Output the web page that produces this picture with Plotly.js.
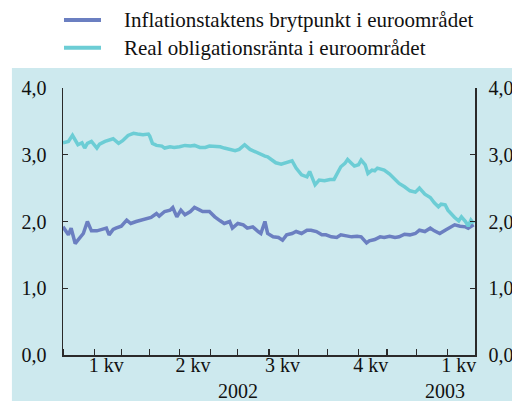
<!DOCTYPE html>
<html>
<head>
<meta charset="utf-8">
<script src="https://cdn.plot.ly/plotly-3.0.1.min.js"></script>
<style>
  html, body { margin: 0; padding: 0; background: #ffffff; }
  #chart { width: 512px; height: 401px; }
</style>
</head>
<body>
<div id="chart"></div>
<script>
// ---- data ----
const seriesNames = ['Inflationstaktens brytpunkt i euroområdet', 'Real obligationsränta i euroområdet'];

const inflDates = ['2002-01-01','2002-01-07','2002-01-09','2002-01-14','2002-01-16','2002-01-22','2002-01-25','2002-01-30',
  '2002-02-05','2002-02-08','2002-02-14','2002-02-18','2002-02-21','2002-02-25','2002-03-01','2002-03-07','2002-03-12',
  '2002-03-18','2002-03-22','2002-03-28','2002-04-02','2002-04-08','2002-04-10','2002-04-16','2002-04-22','2002-04-24',
  '2002-04-29','2002-05-02','2002-05-07','2002-05-13','2002-05-16','2002-05-22','2002-05-24','2002-05-31','2002-06-06',
  '2002-06-12','2002-06-17','2002-06-21','2002-06-25','2002-07-01','2002-07-05','2002-07-10','2002-07-16','2002-07-22',
  '2002-07-24','2002-07-29','2002-07-31','2002-08-06','2002-08-12','2002-08-15','2002-08-20','2002-08-26','2002-08-29',
  '2002-09-04','2002-09-10','2002-09-13','2002-09-19','2002-09-25','2002-09-30','2002-10-04','2002-10-10','2002-10-15',
  '2002-10-21','2002-10-25','2002-10-31','2002-11-05','2002-11-11','2002-11-13','2002-11-19','2002-11-25','2002-11-28',
  '2002-12-04','2002-12-10','2002-12-13','2002-12-19','2002-12-25','2002-12-31','2003-01-03','2003-01-09','2003-01-15',
  '2003-01-20','2003-01-24','2003-01-30','2003-02-04','2003-02-10','2003-02-14','2003-02-20','2003-02-24','2003-02-26',
  '2003-02-28'];
const inflValues = [1.92,1.80,1.90,1.67,1.72,1.82,2.00,1.86,
  1.86,1.88,1.90,1.80,1.88,1.90,1.93,2.02,1.97,
  2.00,2.02,2.05,2.06,2.12,2.08,2.15,2.17,2.21,
  2.07,2.17,2.10,2.15,2.21,2.17,2.15,2.15,2.07,
  2.01,1.97,2.00,1.90,1.97,1.95,1.90,1.92,1.85,
  1.82,2.00,1.82,1.77,1.76,1.72,1.80,1.82,1.85,
  1.82,1.87,1.87,1.85,1.80,1.80,1.77,1.76,1.80,
  1.78,1.77,1.78,1.77,1.68,1.71,1.73,1.77,1.76,
  1.78,1.76,1.77,1.81,1.80,1.82,1.87,1.85,1.90,
  1.86,1.82,1.87,1.90,1.95,1.93,1.92,1.90,1.93,
  1.95];

const realDates = ['2002-01-01','2002-01-07','2002-01-10','2002-01-16','2002-01-21','2002-01-23','2002-01-25','2002-01-30',
  '2002-02-05','2002-02-07','2002-02-13','2002-02-18','2002-02-21','2002-02-27','2002-03-04','2002-03-08','2002-03-14',
  '2002-03-19','2002-03-25','2002-03-29','2002-04-01','2002-04-03','2002-04-08','2002-04-12','2002-04-16','2002-04-22',
  '2002-04-25','2002-05-01','2002-05-07','2002-05-13','2002-05-16','2002-05-22','2002-05-28','2002-05-31','2002-06-06',
  '2002-06-12','2002-06-17','2002-06-21','2002-06-27','2002-07-02','2002-07-08','2002-07-12','2002-07-17','2002-07-23',
  '2002-07-29','2002-07-31','2002-08-05','2002-08-08','2002-08-14','2002-08-20','2002-08-26','2002-08-29','2002-09-04',
  '2002-09-10','2002-09-12','2002-09-18','2002-09-23','2002-09-27','2002-10-03','2002-10-08','2002-10-11','2002-10-15',
  '2002-10-18','2002-10-22','2002-10-25','2002-10-29','2002-11-01','2002-11-05','2002-11-08','2002-11-12','2002-11-15',
  '2002-11-19','2002-11-21','2002-11-26','2002-11-28','2002-12-04','2002-12-10','2002-12-13','2002-12-19','2002-12-25',
  '2002-12-31','2003-01-03','2003-01-09','2003-01-15','2003-01-20','2003-01-23','2003-01-27','2003-01-30','2003-02-03',
  '2003-02-06','2003-02-10','2003-02-13','2003-02-17','2003-02-20','2003-02-24','2003-02-26','2003-02-28'];
const realValues = [3.18,3.20,3.29,3.15,3.18,3.10,3.17,3.20,
  3.10,3.16,3.20,3.22,3.24,3.17,3.21,3.29,3.32,
  3.31,3.30,3.31,3.28,3.17,3.14,3.13,3.10,3.12,
  3.11,3.12,3.14,3.13,3.14,3.11,3.11,3.13,3.13,
  3.12,3.10,3.08,3.06,3.08,3.15,3.08,3.05,3.02,
  2.98,2.97,2.92,2.88,2.86,2.88,2.91,2.80,2.70,
  2.67,2.75,2.55,2.62,2.61,2.63,2.63,2.75,2.82,
  2.87,2.93,2.87,2.83,2.85,2.92,2.85,2.72,2.77,
  2.76,2.80,2.78,2.77,2.71,2.63,2.57,2.52,2.46,
  2.44,2.50,2.41,2.36,2.28,2.22,2.26,2.25,2.17,
  2.10,2.06,2.01,2.07,2.00,1.93,2.02,1.97];

// axis ticks and labels
const monthTicks = ['2002-01-01','2002-02-01','2002-03-01','2002-04-01','2002-05-01','2002-06-03','2002-07-01',
  '2002-08-01','2002-09-02','2002-10-01','2002-11-01','2002-12-02','2003-01-01','2003-02-03'];
const quarterPos = ['2002-02-14','2002-05-15','2002-08-15','2002-11-14','2003-02-13'];
const quarterLabels = ['1 kv','2 kv','3 kv','4 kv','1 kv'];
const yearPos = ['2002-07-01','2003-01-30'];
const yearLabels = ['2002','2003'];
const yTickVals = [0,1,2,3,4];
const yTickText = ['0,0','1,0','2,0','3,0','4,0'];

// ---- style ----
const FONT = 'Liberation Serif, Times New Roman, serif';
const PANEL = '#cde9ee';
const COLORS = ['#6b7fc1', '#6ccdd5'];
const AXC = '#2a2a2a';
const TXT = '#111111';

const traces = [
  { x: inflDates, y: inflValues, name: seriesNames[0], type: 'scatter', mode: 'lines',
    line: { color: COLORS[0], width: 3.5 }, xaxis: 'x', yaxis: 'y', showlegend: false },
  { x: realDates, y: realValues, name: seriesNames[1], type: 'scatter', mode: 'lines',
    line: { color: COLORS[1], width: 3.5 }, xaxis: 'x', yaxis: 'y2', showlegend: false }
];

// legend drawn as keys (line samples) + text, placed above the plot area
const legendRowsY = [1.2547, 1.1509];
const legendShapes = seriesNames.map((n, k) => ({
  type: 'line', xref: 'paper', yref: 'paper', x0: 0.0024, x1: 0.0922, y0: legendRowsY[k], y1: legendRowsY[k],
  line: { color: COLORS[k], width: 4 }
}));
const legendTexts = seriesNames.map((n, k) => ({
  x: 0.143, xref: 'paper', y: legendRowsY[k], yref: 'paper', text: n, showarrow: false,
  xanchor: 'left', yanchor: 'middle', font: { family: FONT, size: 21, color: TXT }
}));

const yearAnnotations = yearLabels.map((t, k) => ({
  x: yearPos[k], xref: 'x', y: -0.134, yref: 'paper', text: t, showarrow: false,
  xanchor: 'center', yanchor: 'middle', borderpad: 0, font: { family: FONT, size: 20, color: TXT }
}));

const layout = {
  width: 512, height: 401,
  margin: { l: 63, r: 37, t: 88, b: 46, pad: 0 },
  paper_bgcolor: '#ffffff',
  plot_bgcolor: PANEL,
  font: { family: FONT, size: 20, color: TXT },
  showlegend: false,
  shapes: [{
    type: 'rect', xref: 'paper', yref: 'paper', x0: -0.124, x1: 1.2, y0: -0.3, y1: 1.075,
    fillcolor: PANEL, line: { width: 0 }, layer: 'below'
  }].concat(legendShapes),
  xaxis: {
    type: 'date', range: ['2002-01-01', '2003-03-01'],
    rangebreaks: [{ bounds: ['sat', 'mon'] }],
    tickmode: 'array', tickvals: quarterPos, ticktext: quarterLabels, ticks: '', ticklen: 0,
    ticklabelstandoff: -9,
    minor: { tickmode: 'array', tickvals: monthTicks, ticks: 'inside', ticklen: 6, tickwidth: 1.2, tickcolor: AXC, showgrid: false },
    showline: true, linecolor: AXC, linewidth: 1.5, showgrid: false, zeroline: false,
    tickfont: { family: FONT, size: 20, color: TXT }, fixedrange: true
  },
  yaxis: {
    range: [0, 4], tickmode: 'array', tickvals: yTickVals, ticktext: yTickText,
    ticks: 'inside', ticklen: 5, tickwidth: 1.2, tickcolor: AXC,
    showline: true, linecolor: AXC, linewidth: 1.5, showgrid: false, zeroline: false,
    ticklabelstandoff: 11,
    tickfont: { family: FONT, size: 20, color: TXT }, fixedrange: true
  },
  yaxis2: {
    range: [0, 4], overlaying: 'y', side: 'right', tickmode: 'array', tickvals: yTickVals, ticktext: yTickText,
    ticks: 'inside', ticklen: 5, tickwidth: 1.2, tickcolor: AXC,
    showline: true, linecolor: AXC, linewidth: 1.5, showgrid: false, zeroline: false,
    ticklabelstandoff: 8,
    tickfont: { family: FONT, size: 20, color: TXT }, fixedrange: true
  },
  annotations: legendTexts.concat(yearAnnotations)
};

Plotly.newPlot('chart', traces, layout, { staticPlot: true, displayModeBar: false });
</script>
</body>
</html>
